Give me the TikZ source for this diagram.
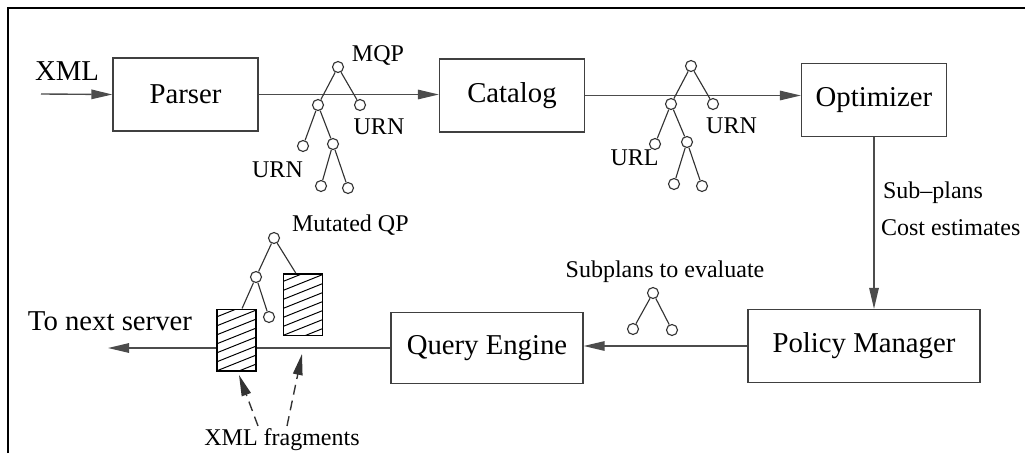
\documentclass[tikz,border=0pt]{standalone}
\usepackage{fontspec}
\setmainfont{Liberation Serif}
\usetikzlibrary{arrows.meta,positioning}

\begin{document}
\begin{tikzpicture}[x=0.4pt,y=-0.4pt,
  box/.style={draw=black!75, line width=0.5pt, minimum width=58pt, minimum height=29.2pt, font=\fontsize{11.5}{13}\selectfont},
  leaf/.style={circle, draw=black!80, line width=0.45pt, inner sep=0pt, minimum size=4.4pt},
  edge/.style={black!80, line width=0.45pt},
  flow/.style={black!70, line width=0.55pt, -{Triangle[length=8.4pt,width=3.8pt]}},
  lbl/.style={font=\fontsize{9.6}{11}\selectfont, inner sep=1pt},
  big/.style={font=\fontsize{11.5}{13}\selectfont, inner sep=1pt},
  hatch/.style={draw=black, line width=0.6pt, fill=white, inner sep=0pt, minimum width=15.6pt, minimum height=24.6pt,
    path picture={\foreach \k in {-2,...,7} \draw[line width=0.4pt] ([yshift=\k*3.6pt]path picture bounding box.south west) -- ++(20pt,8pt);}}]
\useasboundingbox (0,0) rectangle (1025,453);
\draw[line width=0.7pt] (8,453) -- (8,8) -- (1025,8);
% boxes
\node[box] (parser) at (185.5,94.5) {Parser};
\node[box] (catalog) at (512,95.5) {Catalog};
\node[box] (optimizer) at (874,100) {Optimizer};
\node[box, minimum width=92.8pt] (pm) at (864,346) {Policy Manager};
\node[box, minimum width=76.8pt, minimum height=28.4pt] (qe) at (487,348) {Query Engine};
% main flow
\coordinate (in) at (41,94);
\coordinate (out) at (108,346);
\node[big] (xml) at (67,71) {XML};
\node[big] (next) at (110,321) {To next server};
\draw[flow] (in) -- (parser.west);
\draw[flow] (parser.east) -- (parser.east -| catalog.west);
\draw[flow] (catalog.east) -- (catalog.east -| optimizer.west);
\draw[flow] (optimizer.south) -- (optimizer.south |- pm.north);
\draw[flow] (pm.west) -- (pm.west -| qe.east);
\draw[flow] (qe.west) -- (qe.west -| out);
\node[lbl, anchor=west] (subp) at (880,193) {Sub--plans};
\node[lbl, anchor=west] (cost) at (878,228) {Cost estimates};
% MQP tree
\foreach \n/\x/\y in {m0/338/67, m1/318/105, m2/360/105, m3/303/146, m4/333/144, m5/321/186, m6/348/188}
  \node[leaf] (\n) at (\x,\y) {};
\draw[edge] (m0) -- (m1); \draw[edge] (m0) -- (m2);
\draw[edge] (m1) -- (m3); \draw[edge] (m1) -- (m4);
\draw[edge] (m4) -- (m5); \draw[edge] (m4) -- (m6);
\node[lbl] (mqp) at (378,55) {MQP};
\node[lbl] (urn1) at (379,127) {URN};
\node[lbl] (urn2) at (277.5,170) {URN};
% catalog output tree
\foreach \n/\x/\y in {u0/691/66, u1/671/104, u2/713/104, u3/655/144, u4/687/142, u5/674/184, u6/702/186}
  \node[leaf] (\n) at (\x,\y) {};
\draw[edge] (u0) -- (u1); \draw[edge] (u0) -- (u2);
\draw[edge] (u1) -- (u3); \draw[edge] (u1) -- (u4);
\draw[edge] (u4) -- (u5); \draw[edge] (u4) -- (u6);
\node[lbl] (urn3) at (731.5,126) {URN};
\node[lbl] (url) at (634.5,158) {URL};
% subplans
\node[lbl] (eval) at (665,272) {Subplans to evaluate};
\foreach \n/\x/\y in {s0/653/293, s1/633/329, s2/672/330}
  \node[leaf] (\n) at (\x,\y) {};
\draw[edge] (s0) -- (s1); \draw[edge] (s0) -- (s2);
% mutated plan with fragments
\node[hatch] (frag1) at (236.5,340) {};
\node[hatch] (frag2) at (303,304.5) {};
\foreach \n/\x/\y in {q0/274/238, q1/256/277, q2/269/317}
  \node[leaf] (\n) at (\x,\y) {};
\draw[edge] (q0) -- (q1); \draw[edge] (q0) -- (frag2.103);
\draw[edge] (q1) -- (frag1.80); \draw[edge] (q1) -- (q2);
\node[lbl, anchor=west] (mut) at (289,225) {Mutated QP};
\node[lbl] (xmlfr) at (282,440) {XML fragments};
\coordinate (t1) at (239,375);
\coordinate (t2) at (302,354);
\draw[flow, black!80, dash pattern=on 4pt off 2.4pt] ([xshift=-9.6pt]xmlfr.north) -- (t1);
\draw[flow, black!80, dash pattern=on 4pt off 2.4pt] ([xshift=2pt]xmlfr.north) -- (t2);
\end{tikzpicture}
\end{document}
